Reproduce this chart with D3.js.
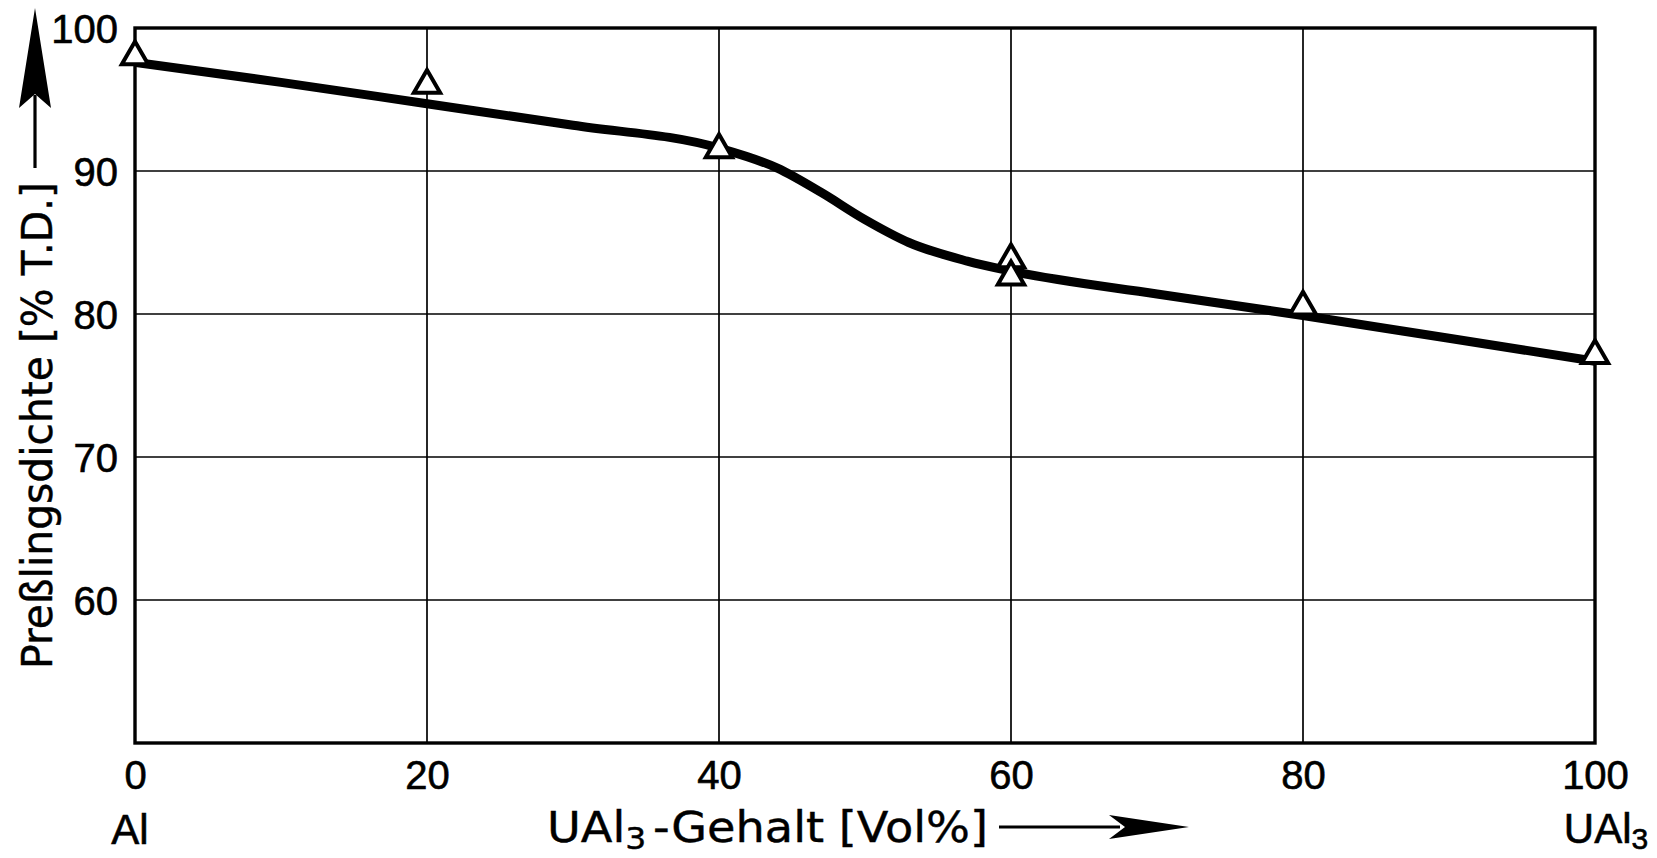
<!DOCTYPE html>
<html>
<head>
<meta charset="utf-8">
<script src="https://cdn.jsdelivr.net/npm/d3@7"></script>
<style>
  body { margin: 0; background: #fff; }
</style>
</head>
<body>
<script>
// measured points (triangles)
const pointX = [0, 20, 40, 60, 60, 80, 100];
const pointY = [98.0, 96.0, 91.5, 83.8, 82.6, 80.5, 77.1];

// hand drawn fit curve
const curveX = [0, 10, 20, 30, 40, 44, 47, 50, 53, 57, 60, 70, 80, 90, 100];
const curveY = [97.6, 96.2, 94.7, 93.2, 91.6, 90.2, 88.5, 86.6, 85.0, 83.7, 83.0, 81.4, 79.9, 78.3, 76.7];

const xTicks = [0, 20, 40, 60, 80, 100];
const yTicks = [60, 70, 80, 90, 100];

const W = 1657, H = 858;
const margin = { top: 28, right: 62, bottom: 115, left: 135 },
    width = W - margin.left - margin.right,
    height = H - margin.top - margin.bottom;

const x = d3.scaleLinear().domain([0, 100]).range([0, width]);
const y = d3.scaleLinear().domain([50, 100]).range([height, 0]);

const svg = d3.select("body").append("svg")
    .attr("width", W)
    .attr("height", H)
    .style("font-family", "'Liberation Sans', sans-serif");

const g = svg.append("g")
    .attr("transform", "translate(" + margin.left + "," + margin.top + ")");

// grid
g.selectAll("line.hgrid")
    .data(yTicks.filter(d => d < 100))
    .enter().append("line")
    .attr("x1", 0).attr("x2", width)
    .attr("y1", d => y(d)).attr("y2", d => y(d))
    .attr("stroke", "#000").attr("stroke-width", 1.7);

g.selectAll("line.vgrid")
    .data(xTicks.filter(d => d > 0 && d < 100))
    .enter().append("line")
    .attr("x1", d => x(d)).attr("x2", d => x(d))
    .attr("y1", 0).attr("y2", height)
    .attr("stroke", "#000").attr("stroke-width", 1.7);

// frame
g.append("rect")
    .attr("width", width).attr("height", height)
    .attr("fill", "none").attr("stroke", "#000").attr("stroke-width", 3.4);

// axes (labels only)
const yAxis = g.append("g")
    .call(d3.axisLeft(y).tickValues(yTicks).tickSize(0).tickPadding(17));
const xAxis = g.append("g")
    .attr("transform", "translate(0," + height + ")")
    .call(d3.axisBottom(x).tickValues(xTicks).tickSize(0).tickPadding(18));
[xAxis, yAxis].forEach(a => {
    a.attr("font-family", null).attr("font-size", null);
    a.select(".domain").remove();
    a.selectAll("text").attr("font-size", 40)
        .attr("fill", "#000")
        .attr("stroke", "#000").attr("stroke-width", 0.6);
});
yAxis.selectAll("text").attr("dy", "0.36em");

// curve
const line = d3.line()
    .x((d, i) => x(curveX[i]))
    .y(d => y(d))
    .curve(d3.curveMonotoneX);

g.append("path")
    .datum(curveY)
    .attr("d", line)
    .attr("fill", "none")
    .attr("stroke", "#000")
    .attr("stroke-width", 9)
    .attr("stroke-linejoin", "round");

// triangles
g.selectAll("path.pt")
    .data(pointY)
    .enter().append("path")
    .attr("class", "pt")
    .attr("d", d3.symbol().type(d3.symbolTriangle).size(300))
    .attr("transform", (d, i) => "translate(" + x(pointX[i]) + "," + y(d) + ")")
    .attr("fill", "#fff")
    .attr("stroke", "#000")
    .attr("stroke-width", 4)
    .attr("stroke-linejoin", "miter");

// end labels under x axis
svg.append("text")
    .attr("x", 130).attr("y", 844)
    .attr("text-anchor", "middle")
    .attr("font-size", 42)
    .attr("stroke", "#000").attr("stroke-width", 0.6)
    .text("Al");

const uEnd = svg.append("text")
    .attr("x", 1606).attr("y", 843)
    .attr("text-anchor", "middle")
    .attr("font-size", 42)
    .attr("stroke", "#000").attr("stroke-width", 0.6);
uEnd.append("tspan").text("UAl");
uEnd.append("tspan").attr("font-size", 30).attr("dy", 6).text("3");

// x title
const xt = svg.append("text")
    .attr("x", 547).attr("y", 842)
    .attr("font-size", 42)
    .style("font-family", "'DejaVu Sans', sans-serif")
    .attr("stroke", "#000").attr("stroke-width", 0.4)
    .attr("textLength", 441)
    .attr("lengthAdjust", "spacingAndGlyphs");
xt.append("tspan").text("UAl");
xt.append("tspan").attr("font-size", 30).attr("dy", 7).text("3");
xt.append("tspan").attr("dy", -7).attr("dx", 6).text("-Gehalt [Vol%]");

svg.append("line")
    .attr("x1", 999).attr("x2", 1120)
    .attr("y1", 827).attr("y2", 827)
    .attr("stroke", "#000").attr("stroke-width", 3.2);
svg.append("path")
    .attr("d", "M0,0 L-80,-12 L-64,0 L-80,12 Z")
    .attr("transform", "translate(1189,827)")
    .attr("fill", "#000");

// y title
svg.append("text")
    .attr("transform", "translate(52,669) rotate(-90)")
    .attr("font-size", 42)
    .style("font-family", "'DejaVu Sans', sans-serif")
    .attr("stroke", "#000").attr("stroke-width", 0.4)
    .attr("textLength", 487)
    .attr("lengthAdjust", "spacingAndGlyphs")
    .text("Preßlingsdichte [% T.D.]");

svg.append("line")
    .attr("x1", 35).attr("x2", 35)
    .attr("y1", 168).attr("y2", 95)
    .attr("stroke", "#000").attr("stroke-width", 3.2);
svg.append("path")
    .attr("d", "M0,0 L-16,100 L0,86 L16,100 Z")
    .attr("transform", "translate(35,8)")
    .attr("fill", "#000");
</script>
</body>
</html>
